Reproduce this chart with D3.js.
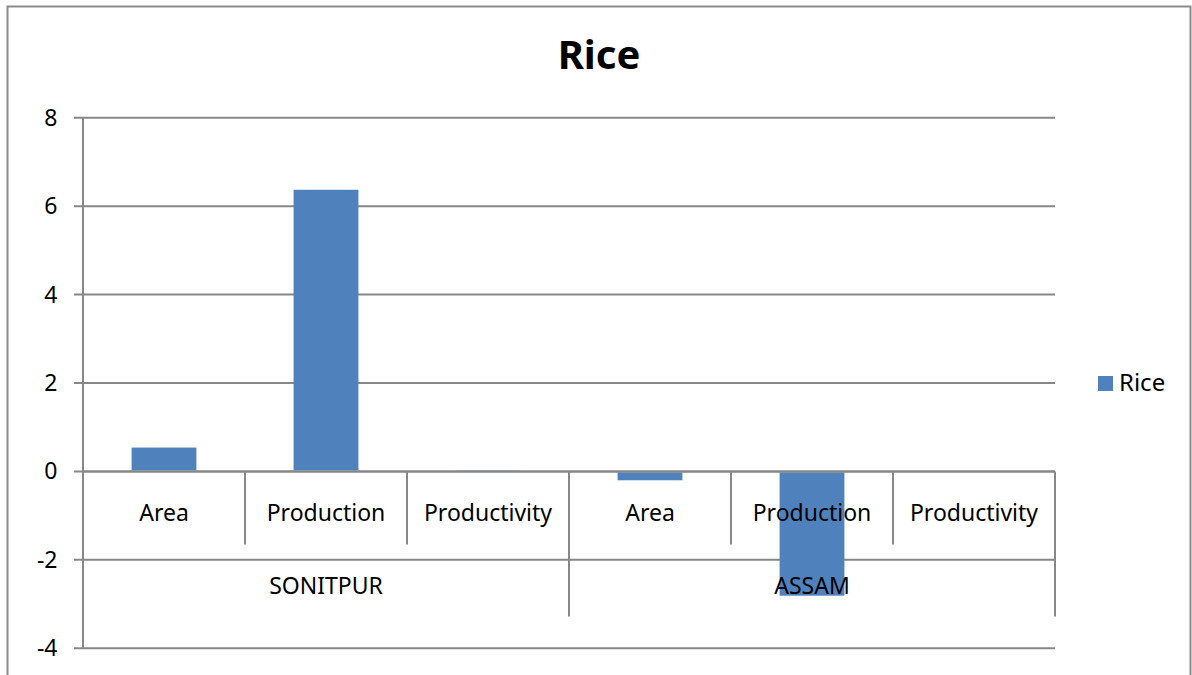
<!DOCTYPE html>
<html>
<head>
<meta charset="utf-8">
<script src="https://cdn.jsdelivr.net/npm/d3@7/dist/d3.min.js"></script>
<style>
  html, body { margin: 0; padding: 0; background: #fff; }
  svg { display: block; }
  text { font-family: "Noto Sans", "Open Sans", sans-serif; fill: #000; }
</style>
</head>
<body>
<svg id="chart" width="1192" height="675"></svg>
<script>
// Growth rates of rice (%), by region and measure
const groups = ["SONITPUR", "ASSAM"];
const measures = ["Area", "Production", "Productivity"];
const sonitpurValues = [0.54, 6.37, 0.03];
const assamValues = [-0.20, -2.81, 0.00];
const yTicks = [-4, -2, 0, 2, 4, 6, 8];
const seriesName = "Rice";

const rows = [];
groups.forEach((g, gi) => {
  const vals = gi === 0 ? sonitpurValues : assamValues;
  measures.forEach((m, mi) => rows.push({ key: g + "|" + m, group: g, measure: m, value: vals[mi] }));
});

const svg = d3.select("#chart");
const gridColor = "#878787";
const barColor = "#4f81bd";

// chart frame
svg.append("rect")
  .attr("x", 7.5).attr("y", 6.5).attr("width", 1183).attr("height", 700)
  .attr("fill", "none").attr("stroke", "#8c8c8c").attr("stroke-width", 2);

const left = 83, right = 1055;
const x = d3.scaleBand().domain(rows.map(d => d.key)).range([left, right])
  .paddingInner(0.6).paddingOuter(0.3);
const y = d3.scaleLinear().domain([-4, 8]).range([648.3, 117.7]);

// title
svg.append("text").attr("x", 599).attr("y", 69).attr("text-anchor", "middle")
  .style("font-size", "40px").style("font-weight", "bold").text(seriesName);

// horizontal gridlines
svg.append("g").selectAll("line").data(yTicks).join("line")
  .attr("x1", left - 9).attr("x2", right)
  .attr("y1", d => y(d)).attr("y2", d => y(d))
  .attr("stroke", gridColor).attr("stroke-width", 2);

// y-axis line
svg.append("line").attr("x1", left).attr("x2", left)
  .attr("y1", y(8)).attr("y2", y(-4)).attr("stroke", gridColor).attr("stroke-width", 2);

// y tick labels
svg.append("g").selectAll("text").data(yTicks).join("text")
  .attr("x", 57.5).attr("y", d => y(d) + 8).attr("text-anchor", "end")
  .style("font-size", "23px").text(d => d);

// bars
svg.append("g").selectAll("rect").data(rows).join("rect")
  .attr("x", d => x(d.key)).attr("width", x.bandwidth())
  .attr("y", d => y(Math.max(0, d.value)) + (d.value >= 0 ? 0 : 1))
  .attr("height", d => Math.max(0, Math.abs(y(d.value) - y(0)) - 1))
  .attr("fill", barColor);

// zero line over bars
svg.append("line").attr("x1", left).attr("x2", right)
  .attr("y1", y(0)).attr("y2", y(0)).attr("stroke", gridColor).attr("stroke-width", 2);

// category-axis table: dividers between measures
const step = x.step();
const zeroY = y(0);
const innerDividers = [];
rows.forEach((d, i) => { if (i > 0 && i % measures.length !== 0) innerDividers.push(left + i * step); });
svg.append("g").selectAll("line").data(innerDividers).join("line")
  .attr("x1", d => d).attr("x2", d => d).attr("y1", zeroY).attr("y2", zeroY + 73)
  .attr("stroke", gridColor).attr("stroke-width", 2);

// group dividers (between groups and at right end)
const groupDividers = groups.map((g, gi) => left + (gi + 1) * measures.length * step);
svg.append("g").selectAll("line").data(groupDividers).join("line")
  .attr("x1", d => d).attr("x2", d => d).attr("y1", zeroY).attr("y2", zeroY + 145)
  .attr("stroke", gridColor).attr("stroke-width", 2);

// measure labels
svg.append("g").selectAll("text").data(rows).join("text")
  .attr("x", d => x(d.key) + x.bandwidth() / 2).attr("y", zeroY + 50)
  .attr("text-anchor", "middle").style("font-size", "23px").text(d => d.measure);

// group labels
svg.append("g").selectAll("text").data(groups).join("text")
  .attr("x", (d, gi) => left + (gi + 0.5) * measures.length * step).attr("y", zeroY + 123)
  .attr("text-anchor", "middle").style("font-size", "23px").text(d => d);

// legend
svg.append("rect").attr("x", 1098).attr("y", 376).attr("width", 15).attr("height", 15).attr("fill", barColor);
svg.append("text").attr("x", 1119).attr("y", 391).style("font-size", "24px").text(seriesName);
</script>
</body>
</html>
